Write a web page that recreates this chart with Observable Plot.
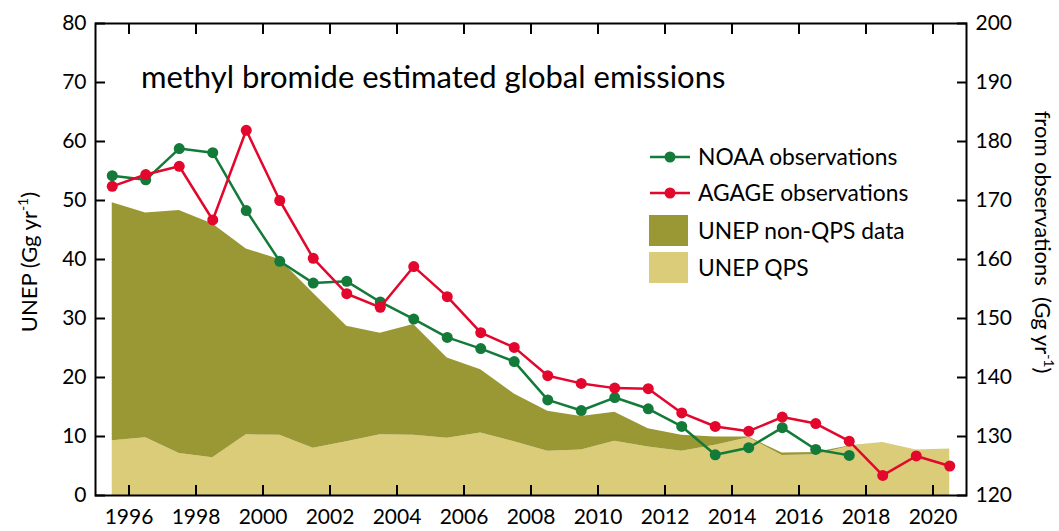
<!DOCTYPE html>
<html>
<head>
<meta charset="utf-8">
<script src="https://cdn.jsdelivr.net/npm/d3@7"></script>
<script src="https://cdn.jsdelivr.net/npm/@observablehq/plot@0.6"></script>
<style>
  body { margin: 0; background: #fff; }
  svg { display: block; }
</style>
</head>
<body>
<div id="chart"></div>
<script>
// Methyl bromide emissions, one value per year (plotted at mid-year).
const years = [1995, 1996, 1997, 1998, 1999, 2000, 2001, 2002, 2003, 2004, 2005, 2006, 2007,
               2008, 2009, 2010, 2011, 2012, 2013, 2014, 2015, 2016, 2017, 2018, 2019, 2020];

// Top-down emissions from observations (Gg/yr, right axis)
const noaa = [174.2, 173.5, 178.8, 178.1, 168.3, 159.7, 156.0, 156.3, 152.8, 149.9, 146.8, 144.9, 142.7,
              136.2, 134.4, 136.6, 134.7, 131.7, 126.9, 128.1, 131.5, 127.8, 126.8, null, null, null];
const agage = [172.4, 174.4, 175.8, 166.7, 181.9, 170.0, 160.2, 154.2, 151.9, 158.8, 153.7, 147.6, 145.1,
               140.3, 139.0, 138.2, 138.1, 134.0, 131.7, 130.9, 133.3, 132.2, 129.2, 123.4, 126.7, 125.0];

// UNEP reported production (Gg/yr, left axis)
const unepQPS = [9.3, 9.8, 7.1, 6.4, 10.3, 10.2, 8.0, 9.1, 10.3, 10.2, 9.7, 10.6, 9.1,
                 7.5, 7.7, 9.2, 8.2, 7.5, 8.5, 9.8, 6.8, 6.9, 8.3, 9.0, 7.7, 7.9];
const unepNonQPS = [40.3, 38.1, 41.2, 39.6, 31.5, 29.8, 26.3, 19.6, 17.2, 18.8, 13.6, 10.7, 8.1,
                    6.8, 5.7, 4.9, 3.1, 2.7, 1.4, 0.1, 0.4, 0.4, 0.1, 0, 0, 0];

// Axis ticks
const xTicks = [1996, 1998, 2000, 2002, 2004, 2006, 2008, 2010, 2012, 2014, 2016, 2018, 2020];
const leftTicks = [0, 10, 20, 30, 40, 50, 60, 70, 80];
const rightTicks = [120, 130, 140, 150, 160, 170, 180, 190, 200];
const rightOffset = 120; // right axis = left axis + 120

const colors = {
  noaa: "#137a39",
  agage: "#e3062d",
  nonQPS: "#9a9835",
  qps: "#dbcc7a"
};

const unepRows = years.map((year, i) => ({
  t: year + 0.5,
  qps: unepQPS[i],
  total: unepQPS[i] + unepNonQPS[i]
}));
const obsRows = (values) => years
  .map((year, i) => ({t: year + 0.5, v: values[i]}))
  .filter(d => d.v != null);
const noaaRows = obsRows(noaa);
const agageRows = obsRows(agage);
const yObs = d => d.v - rightOffset;
const rightTickPos = rightTicks.map(v => v - rightOffset);

const font = "Lato, 'Open Sans', sans-serif";
const tickLen = 10;

const chart = Plot.plot({
  width: 1059,
  height: 531,
  marginLeft: 95,
  marginRight: 93,
  marginTop: 23,
  marginBottom: 36,
  style: {fontFamily: font, fontSize: "21px", color: "#000", background: "#fff", overflow: "visible"},
  x: {domain: [1995, 2021]},
  y: {domain: [0, 80]},
  marks: [
    Plot.areaY(unepRows, {x: "t", y1: 0, y2: "qps", fill: colors.qps}),
    Plot.areaY(unepRows, {x: "t", y1: "qps", y2: "total", fill: colors.nonQPS}),
    Plot.lineY(noaaRows, {x: "t", y: yObs, stroke: colors.noaa, strokeWidth: 2.5}),
    Plot.dot(noaaRows, {x: "t", y: yObs, r: 5.5, fill: colors.noaa}),
    Plot.lineY(agageRows, {x: "t", y: yObs, stroke: colors.agage, strokeWidth: 2.5}),
    Plot.dot(agageRows, {x: "t", y: yObs, r: 5.5, fill: colors.agage}),
    // tick labels
    Plot.axisX(xTicks, {anchor: "bottom", tickSize: 0, tickPadding: 14, tickFormat: d => String(d), label: null}),
    Plot.axisY(leftTicks, {anchor: "left", tickSize: 0, tickPadding: 9, tickFormat: d => String(d), label: null}),
    Plot.axisY(rightTickPos, {anchor: "right", tickSize: 0, tickPadding: 9,
      tickFormat: d => String(d + rightOffset), label: null}),
    // tick marks pointing into the frame
    Plot.axisX(xTicks, {anchor: "bottom", tickSize: tickLen, dy: -tickLen, tickFormat: () => "", strokeWidth: 2, label: null}),
    Plot.axisX(xTicks, {anchor: "top", tickSize: tickLen, dy: tickLen, tickFormat: () => "", strokeWidth: 2, label: null}),
    Plot.axisY(leftTicks, {anchor: "left", tickSize: tickLen, dx: tickLen, tickFormat: () => "", strokeWidth: 2, label: null}),
    Plot.axisY(rightTickPos, {anchor: "right", tickSize: tickLen, dx: -tickLen, tickFormat: () => "", strokeWidth: 2, label: null}),
    Plot.frame({stroke: "#000", strokeWidth: 2})
  ]
});

document.getElementById("chart").append(chart);

// Title, axis titles and legend
const svg = d3.select(chart);
const g = svg.append("g")
  .attr("font-family", font)
  .attr("fill", "#000")
  .attr("text-anchor", "start");

g.append("text")
  .attr("x", 141).attr("y", 88)
  .attr("font-size", 31)
  .text("methyl bromide estimated global emissions");

function unitLabel(sel, prefix) {
  sel.append("tspan").text(prefix);
  sel.append("tspan").attr("font-size", 14).attr("dy", -9).text("-1");
  sel.append("tspan").attr("dy", 9).text(")");
}

g.append("text")
  .attr("transform", "translate(37,262) rotate(-90)")
  .attr("text-anchor", "middle")
  .attr("font-size", 22)
  .call(unitLabel, "UNEP (Gg yr");

g.append("text")
  .attr("transform", "translate(1035,242) rotate(90)")
  .attr("text-anchor", "middle")
  .attr("font-size", 22)
  .style("white-space", "pre")
  .call(unitLabel, "from observations  (Gg yr");

const legend = g.append("g").attr("font-size", 22.8);
const lineItems = [
  {label: "NOAA observations", color: colors.noaa, y: 157},
  {label: "AGAGE observations", color: colors.agage, y: 193}
];
for (const item of lineItems) {
  legend.append("line")
    .attr("x1", 650).attr("x2", 690).attr("y1", item.y).attr("y2", item.y)
    .attr("stroke", item.color).attr("stroke-width", 2.5);
  legend.append("circle").attr("cx", 670).attr("cy", item.y).attr("r", 5.5).attr("fill", item.color);
  legend.append("text").attr("x", 698).attr("y", item.y).attr("dy", "0.36em").text(item.label);
}
const boxItems = [
  {label: "UNEP non-QPS data", color: colors.nonQPS, y: 215},
  {label: "UNEP QPS", color: colors.qps, y: 252}
];
for (const item of boxItems) {
  legend.append("rect")
    .attr("x", 649).attr("y", item.y).attr("width", 39).attr("height", 31)
    .attr("fill", item.color);
  legend.append("text").attr("x", 698).attr("y", item.y + 15.5).attr("dy", "0.36em").text(item.label);
}
</script>
</body>
</html>
